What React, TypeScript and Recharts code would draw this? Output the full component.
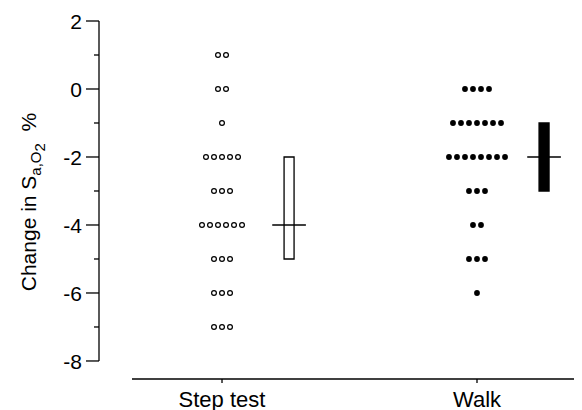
import { ComposedChart, ReferenceArea, ReferenceLine, Scatter, XAxis, YAxis } from "recharts"

const categories = ["Step test", "Walk"]
const stepTest = [1, 1, 0, 0, -1, -2, -2, -2, -2, -2, -3, -3, -3, -4, -4, -4, -4, -4, -4, -5, -5, -5, -6, -6, -6, -7, -7, -7]
const walk = [0, 0, 0, 0, -1, -1, -1, -1, -1, -1, -1, -2, -2, -2, -2, -2, -2, -2, -2, -3, -3, -3, -4, -4, -5, -5, -5, -6]
const medians = [-4, -2]
const lowerQuartiles = [-5, -3]
const upperQuartiles = [-2, -1]
const yTicks = [2, 1, 0, -1, -2, -3, -4, -5, -6, -7, -8]

const FONT = "'Liberation Sans', Arial, sans-serif"
const X_DOMAIN: [number, number] = [0.5176, 2.4118]
const Y_DOMAIN: [number, number] = [-8.53, 2]
const DOT_GAP = 0.0314
const BOX_OFFSET = 0.263
const BOX_HALF = 0.0196
const MEDIAN_HALF = 0.066

// lay out dots of equal value side by side around the category position
function spread(values: number[], center: number) {
  const counts: Record<string, number> = {}
  values.forEach((v) => (counts[v] = (counts[v] || 0) + 1))
  const seen: Record<string, number> = {}
  return values.map((v) => {
    const i = seen[v] || 0
    seen[v] = i + 1
    return { x: center + (i - (counts[v] - 1) / 2) * DOT_GAP, y: v }
  })
}

const stepPoints = spread(stepTest, 1)
const walkPoints = spread(walk, 2)

const OpenDot = (props: any) => (
  <circle cx={props.cx} cy={props.cy} r={2.4} fill="#fff" stroke="#000" strokeWidth={1.2} />
)
const FilledDot = (props: any) => <circle cx={props.cx} cy={props.cy} r={2.9} fill="#000" />

const YTick = ({ x, y, payload }: any) => {
  const major = payload.value % 2 === 0
  return (
    <g>
      <line x1={x - (major ? 13 : 5)} x2={x} y1={y} y2={y} stroke="#000" strokeWidth={1.3} />
      {major && (
        <text x={x - 17} y={y} dy="0.36em" textAnchor="end" fontSize={21} fontFamily={FONT} fill="#000">
          {payload.value}
        </text>
      )}
    </g>
  )
}

const YLabel = () => (
  <text transform="translate(28, 194) rotate(-90)" textAnchor="middle" fontSize={21} fontFamily={FONT} fill="#000">
    Change in S
    <tspan fontSize={15} dy={5}>a,O</tspan>
    <tspan fontSize={15} dy={4}>2</tspan>
    <tspan dy={-9}>{"\u00a0\u00a0%"}</tspan>
  </text>
)

export default function App() {
  return (
    <ComposedChart width={574} height={402} margin={{ top: 13, right: 0, bottom: 0, left: 0 }}>
      <XAxis
        dataKey="x"
        type="number"
        domain={X_DOMAIN}
        allowDataOverflow
        ticks={[1, 2]}
        tickFormatter={(v) => categories[v - 1]}
        axisLine={false}
        tickSize={4}
        tickMargin={8}
        height={31}
        tickLine={{ stroke: "#000", strokeWidth: 1.3 }}
        tick={{ fill: "#000", fontSize: 22, fontFamily: FONT }}
      />
      <YAxis
        dataKey="y"
        type="number"
        domain={Y_DOMAIN}
        allowDataOverflow
        ticks={yTicks}
        interval={0}
        width={91}
        axisLine={false}
        tickLine={false}
        tickSize={0}
        tickMargin={0}
        tick={<YTick />}
        label={{ content: () => <YLabel /> }}
      />
      <ReferenceLine
        segment={[{ x: X_DOMAIN[0], y: -8 }, { x: X_DOMAIN[0], y: 2 }]}
        stroke="#000"
        strokeWidth={1.3}
        ifOverflow="visible"
      />
      <ReferenceLine
        segment={[{ x: 0.647, y: Y_DOMAIN[0] }, { x: X_DOMAIN[1], y: Y_DOMAIN[0] }]}
        stroke="#000"
        strokeWidth={1.3}
        ifOverflow="visible"
      />
      {medians.map((m, i) => (
        <ReferenceArea
          key={"box" + i}
          x1={i + 1 + BOX_OFFSET - BOX_HALF}
          x2={i + 1 + BOX_OFFSET + BOX_HALF}
          y1={lowerQuartiles[i]}
          y2={upperQuartiles[i]}
          fill={i === 0 ? "#fff" : "#000"}
          fillOpacity={1}
          stroke="#000"
          strokeWidth={1.3}
          ifOverflow="visible"
        />
      ))}
      {medians.map((m, i) => (
        <ReferenceLine
          key={"med" + i}
          segment={[{ x: i + 1 + BOX_OFFSET - MEDIAN_HALF, y: m }, { x: i + 1 + BOX_OFFSET + MEDIAN_HALF, y: m }]}
          stroke="#000"
          strokeWidth={1.3}
          ifOverflow="visible"
        />
      ))}
      <Scatter data={stepPoints} dataKey="y" shape={<OpenDot />} isAnimationActive={false} />
      <Scatter data={walkPoints} dataKey="y" shape={<FilledDot />} isAnimationActive={false} />
    </ComposedChart>
  )
}
